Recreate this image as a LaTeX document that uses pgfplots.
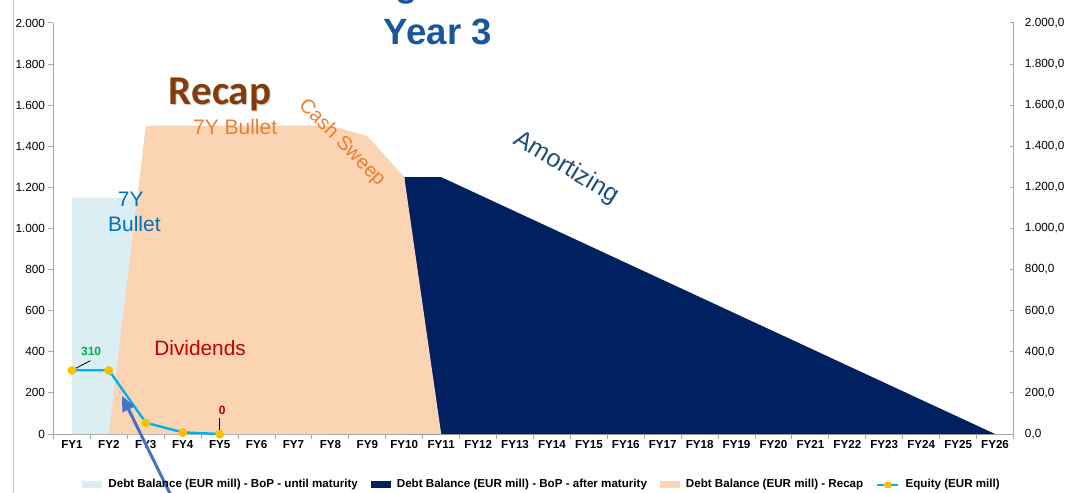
\documentclass[border=0pt]{standalone}
\usepackage{fontspec}
\setmainfont{Liberation Sans}
\newfontfamily\calibri{Carlito}
\usepackage{pgfplots}
\pgfplotsset{compat=1.18}
\usetikzlibrary{arrows.meta}

\definecolor{lightblue}{HTML}{DAEEF3}
\definecolor{navy}{HTML}{002060}
\definecolor{peach}{HTML}{FBD4B4}
\definecolor{eqcyan}{HTML}{00B0F0}
\definecolor{eqgold}{HTML}{FFC000}
\definecolor{axisgray}{HTML}{A6A6A6}
\definecolor{titleblue}{HTML}{19579A}
\definecolor{recapbrown}{HTML}{843C0C}
\definecolor{orangetxt}{HTML}{ED7D31}
\definecolor{bullblue}{HTML}{0070C0}
\definecolor{amortblue}{HTML}{1F4E79}
\definecolor{divred}{HTML}{C00000}
\definecolor{labgreen}{HTML}{00B050}
\definecolor{arrowblue}{HTML}{4472C4}

\pgfplotsset{
  areaentry/.style={legend image code/.code={\fill[##1] (0pt,-1.75pt) rectangle (10pt,1.75pt);}},
  lineentry/.style={legend image code/.code={\draw[mark repeat=2,mark phase=2,##1,mark size=1.5pt] plot coordinates {(0pt,0pt)(5.25pt,0pt)(10.5pt,0pt)};}},
}

\begin{document}
\begin{tikzpicture}
\useasboundingbox (-26.75pt,-29.5pt) rectangle (506.75pt,217pt);
\begin{axis}[
  at={(0,0)}, anchor=south west,
  scale only axis, width=480pt, height=205.5pt,
  xmin=0.5, xmax=26.5, ymin=0, ymax=2000,
  axis x line*=bottom, axis y line*=left,
  axis line style={draw=axisgray, line width=0.5pt},
  xtick={0.5,1.5,...,26.5},
  xticklabels={},
  extra x ticks={1,...,26},
  extra x tick labels={FY1,FY2,FY3,FY4,FY5,FY6,FY7,FY8,FY9,FY10,FY11,FY12,FY13,FY14,FY15,FY16,FY17,FY18,FY19,FY20,FY21,FY22,FY23,FY24,FY25,FY26},
  extra x tick style={tick style={draw=none}},
  major tick length=2.5pt,
  tick align=outside,
  tick style={draw=axisgray, line width=0.5pt},
  ytick={0,200,...,2000},
  /pgf/number format/1000 sep={.},
  /pgf/number format/assume math mode=true,
  yticklabel style={font=\fontsize{5.9}{7}\selectfont, xshift=1.8pt},
  xticklabel style={font=\bfseries\fontsize{5.8}{6}\selectfont, yshift=3pt},
  clip=false,
  legend columns=4,
  legend style={at={(0.5095,-0.124)}, anchor=center, draw=none, fill=none,
    font=\bfseries\fontsize{5.8}{6}\selectfont,
    /tikz/every odd column/.append style={column sep=1.5pt},
    /tikz/every even column/.append style={column sep=5pt},
    nodes={inner xsep=1.5pt}},
]
\addplot[fill=lightblue, draw=none, areaentry] coordinates {
  (1,1150) (2,1150) (3,1150) (4,1150) (5,1150) (6,1150) (7,1150) (8,0)
} \closedcycle;
\addlegendentry{Debt Balance (EUR mill) - BoP - until maturity}
\addplot[fill=navy, draw=none, areaentry] coordinates {
  (10,1250) (11,1250) (12,1166.7) (13,1083.3) (14,1000) (15,916.7) (16,833.3)
  (17,750) (18,666.7) (19,583.3) (20,500) (21,416.7) (22,333.3) (23,250)
  (24,166.7) (25,83.3) (26,0)
} \closedcycle;
\addlegendentry{Debt Balance (EUR mill) - BoP - after maturity}
\addplot[fill=peach, draw=none, areaentry] coordinates {
  (2,0) (3,1500) (4,1500) (5,1500) (6,1500) (7,1500) (8,1500) (9,1450) (10,1250) (11,0)
} \closedcycle;
\addlegendentry{Debt Balance (EUR mill) - Recap}
\addplot[color=eqcyan, line width=1.2pt, mark=*, mark size=2pt,
  mark options={fill=eqgold, draw=eqgold, line width=0pt}, lineentry]
  coordinates {(1,310) (2,310) (3,55) (4,8) (5,0)};
\addlegendentry{Equity (EUR mill)}

% annotations
\draw[axisgray!70, line width=0.5pt] (axis cs:-0.57,-400) -- (axis cs:-0.57,2300);
\node[anchor=base, inner sep=0pt, text=titleblue, font=\bfseries\fontsize{18.3}{20}\selectfont] at (axis cs:10.91,1893) {Year 3};
\node[anchor=base, inner sep=0pt, text=titleblue, font=\bfseries\fontsize{18.3}{20}\selectfont] at (axis cs:10.07,2130) {g};
\node[anchor=base, inner sep=0pt, text=black!20, font=\calibri\bfseries\fontsize{20.5}{24}\selectfont] at ([shift={(0.5pt,-0.5pt)}]axis cs:5.01,1601) {Recap};
\node[anchor=base, inner sep=0pt, text=recapbrown, font=\calibri\bfseries\fontsize{20.5}{24}\selectfont] at (axis cs:5.01,1601) {Recap};
\node[anchor=base, inner sep=0pt, text=orangetxt, font=\fontsize{10.5}{12}\selectfont] at (axis cs:5.42,1455) {7Y Bullet};
\node[rotate=-45, inner sep=0pt, text=orangetxt, font=\fontsize{10}{12}\selectfont] at (axis cs:8.31,1416) {Cash Sweep};
\node[anchor=base, inner sep=0pt, text=bullblue, font=\fontsize{10.5}{12}\selectfont] at (axis cs:2.59,1109) {7Y};
\node[anchor=base, inner sep=0pt, text=bullblue, font=\fontsize{10.5}{12}\selectfont] at (axis cs:2.69,983) {Bullet};
\node[rotate=-31, inner sep=0pt, text=amortblue, font=\fontsize{12.5}{14}\selectfont] at (axis cs:14.38,1294) {Amortizing};
\node[anchor=base, inner sep=0pt, text=divred, font=\fontsize{10.4}{12}\selectfont] at (axis cs:4.47,384) {Dividends};
\draw[black, line width=0.4pt] (axis cs:1,310) -- (axis cs:1.5,357);
\node[anchor=base, inner sep=0pt, text=labgreen, font=\bfseries\fontsize{6}{7}\selectfont] at (axis cs:1.52,380) {310};
\draw[black, line width=0.4pt] (axis cs:5,0) -- (axis cs:5,80);
\node[anchor=base, inner sep=0pt, text=divred, font=\bfseries\fontsize{6}{7}\selectfont] at (axis cs:5.07,97) {0};
\draw[-{Triangle[width=6.5pt,length=7.5pt]}, arrowblue, line width=1.5pt] (axis cs:3.74,-321) -- (axis cs:2.355,185);
\end{axis}

\begin{axis}[
  at={(0,0)}, anchor=south west,
  scale only axis, width=480pt, height=205.5pt,
  xmin=0.5, xmax=26.5, ymin=0, ymax=2000,
  axis x line=none, axis y line*=right,
  axis line style={draw=axisgray, line width=0.5pt},
  tick align=inside, major tick length=2pt,
  tick style={draw=axisgray, line width=0.5pt},
  ytick={0,200,...,2000},
  /pgf/number format/fixed, /pgf/number format/fixed zerofill,
  /pgf/number format/precision=1, /pgf/number format/use comma,
  /pgf/number format/1000 sep={.},
  /pgf/number format/assume math mode=true,
  yticklabel style={font=\fontsize{5.9}{7}\selectfont, xshift=2.2pt},
]
\end{axis}
\end{tikzpicture}
\end{document}
